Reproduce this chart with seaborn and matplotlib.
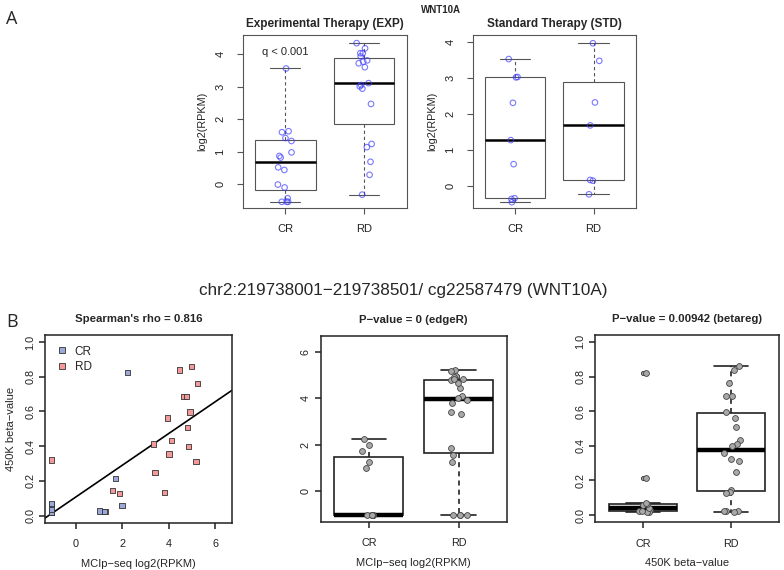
import numpy as np
import pandas as pd
import matplotlib
matplotlib.use("Agg")
import matplotlib.pyplot as plt
from matplotlib.lines import Line2D
import seaborn as sns

groups = ["CR", "RD"]

# Panel A: WNT10A expression, log2(RPKM)
exp_cr = [3.56, 1.63, 1.60, 1.42, 1.33, 0.98, 0.87, 0.82, 0.52, 0.44,
          -0.01, -0.10, -0.43, -0.54, -0.54, -0.54]
exp_rd = [4.34, 4.18, 4.03, 4.03, 3.93, 3.81, 3.77, 3.72, 3.60, 3.11,
          3.05, 3.01, 2.94, 2.47, 1.24, 1.14, 0.69, 0.29, -0.32]
std_cr = [3.53, 3.03, 3.02, 2.31, 1.27, 0.60, -0.35, -0.37, -0.46]
std_rd = [3.97, 3.48, 2.32, 1.68, 0.16, 0.14, -0.24]

# Panel B: per sample MCIp-seq log2(RPKM) and 450K beta-value
cr_mcip = [2.24, 1.99, 1.71, 1.24, 1.01, -1.04, -1.04, -1.04, -1.04, -1.04, -1.04]
cr_beta = [0.823, 0.060, 0.215, 0.023, 0.027, 0.018, 0.020, 0.021, 0.038, 0.064, 0.069]
rd_mcip = [4.98, 4.46, 5.25, 4.65, 4.78, 4.92, 3.94, 4.82, 4.12, 3.34, 4.85,
           4.01, -1.04, 5.18, 3.42, 1.57, 3.81, 1.87, 1.25, -1.04, -1.04, -1.04]
rd_beta = [0.860, 0.838, 0.760, 0.685, 0.687, 0.598, 0.563, 0.508, 0.433, 0.413, 0.398,
           0.356, 0.321, 0.312, 0.250, 0.144, 0.135, 0.129, 0.025, 0.023, 0.021, 0.020]

titles_a = ["Experimental Therapy (EXP)", "Standard Therapy (STD)"]
titles_b = ["Spearman's rho = 0.816", "P\u2212value = 0 (edgeR)",
            "P\u2212value = 0.00942 (betareg)"]
mcip_label = "MCIp\u2212seq log2(RPKM)"
beta_label = "450K beta\u2212value"

cr_col = "#9aa8da"
rd_col = "#f4999a"
blue = "#3c3cffb0"

sns.set_theme(style="ticks")
plt.rcParams["font.family"] = ["Liberation Sans", "DejaVu Sans"]
np.random.seed(3)

W, H = 784, 570


def rect(x0, y0, x1, y1):
    return [x0 / W, 1 - y1 / H, (x1 - x0) / W, (y1 - y0) / H]


def long_df(cr, rd):
    return pd.DataFrame({"group": ["CR"] * len(cr) + ["RD"] * len(rd),
                         "value": list(cr) + list(rd)})


def frame(ax, color, lw, tick_len, xpad, ypad, fs):
    for s in ax.spines.values():
        s.set_color(color)
        s.set_linewidth(lw)
    ax.tick_params(axis="both", direction="out", length=tick_len, width=lw,
                   color=color, labelsize=fs, labelcolor="#222222")
    ax.tick_params(axis="x", pad=xpad)
    ax.tick_params(axis="y", pad=ypad, labelrotation=90)
    for t in ax.get_yticklabels():
        t.set_va("center")


def box_strip(ax, df, line, lw, mlw, strip_kws, flier=False):
    sns.boxplot(data=df, x="group", y="value", order=groups, width=0.77,
                color="white", linecolor=line, linewidth=lw, whis=1.5,
                showfliers=flier, fliersize=3,
                flierprops=dict(marker="o", markerfacecolor="#a8a8a8",
                                markeredgecolor="#333333", markeredgewidth=0.6),
                medianprops=dict(color="black", linewidth=mlw),
                whiskerprops=dict(linestyle=(0, (3, 2.5))),
                ax=ax)
    sns.stripplot(data=df, x="group", y="value", order=groups, jitter=0.1,
                  ax=ax, zorder=3, **strip_kws)
    ax.set_xlim(-0.54, 1.54)
    ax.set_xlabel("")
    ax.set_ylabel("")


fig = plt.figure(figsize=(W / 100, H / 100), dpi=100)

# ---- Panel A ----
open_pts = dict(size=4, facecolor="none", edgecolor=blue, linewidth=0.8)
ax1 = fig.add_axes(rect(242.7, 35, 406.7, 208.3))
box_strip(ax1, long_df(exp_cr, exp_rd), "#555555", 0.8, 1.8, open_pts)
ax1.set_ylim(-0.74, 4.59)
ax1.set_yticks([0, 1, 2, 3, 4])
ax1.text(0, 4.07, "q < 0.001", ha="center", va="center", fontsize=8)

ax2 = fig.add_axes(rect(472.7, 35, 636, 208.3))
box_strip(ax2, long_df(std_cr, std_rd), "#555555", 0.8, 1.8, open_pts)
ax2.set_ylim(-0.63, 4.20)
ax2.set_yticks([0, 1, 2, 3, 4])

for ax, t in zip([ax1, ax2], titles_a):
    frame(ax, "#555555", 0.8, 4.5, 7, 8, 8)
    ax.set_title(t, fontsize=8.5, fontweight="bold", pad=6)
    ax.set_ylabel("log2(RPKM)", fontsize=7.8, labelpad=6)

fig.text(12 / W, 1 - 19 / H, "A", fontsize=13, ha="center", va="center",
         family=["Open Sans", "DejaVu Sans"])
fig.text(441 / W, 1 - 10 / H, "WNT10A", fontsize=7, fontweight="bold",
         ha="center", va="center")
fig.text(403 / W, 1 - 291 / H,
         "chr2:219738001\u2212219738501/ cg22587479 (WNT10A)",
         fontsize=12.3, ha="center", va="center")
fig.text(12 / W, 1 - 322 / H, "B", fontsize=13, ha="center", va="center",
         family=["Open Sans", "DejaVu Sans"])

# ---- Panel B: scatter ----
df_b = pd.DataFrame({
    "group": ["RD"] * len(rd_mcip) + ["CR"] * len(cr_mcip),
    "mcip": list(rd_mcip) + list(cr_mcip),
    "beta": list(rd_beta) + list(cr_beta),
})
mcip_lim = (-1.33, 6.72)
beta_lim = (-0.04, 1.04)

ax3 = fig.add_axes(rect(45, 335, 231.7, 522.7))
sns.scatterplot(data=df_b, x="mcip", y="beta", hue="group", hue_order=groups,
                palette={"CR": cr_col, "RD": rd_col}, marker="s", s=15,
                edgecolor="#333333", linewidth=0.6, legend=False, ax=ax3, zorder=3)
ax3.set_xlim(*mcip_lim)
sns.regplot(data=df_b, x="mcip", y="beta", scatter=False, ci=None,
            truncate=False, color="black", line_kws=dict(lw=1.2), ax=ax3)
ax3.set_xlim(*mcip_lim)
ax3.set_ylim(*beta_lim)
ax3.set_xticks([0, 2, 4, 6])
ax3.set_yticks([0, 0.2, 0.4, 0.6, 0.8, 1.0])
ax3.set_yticklabels([f"{v:.1f}" for v in [0, 0.2, 0.4, 0.6, 0.8, 1.0]])
ax3.set_xlabel(mcip_label, fontsize=8, labelpad=7)
ax3.set_ylabel(beta_label, fontsize=8, labelpad=7)
handles = [Line2D([], [], ls="", marker="s", markersize=5, markerfacecolor=c,
                  markeredgecolor="#333333", markeredgewidth=0.6)
           for c in [cr_col, rd_col]]
ax3.legend(handles, groups, loc="upper left", frameon=False, fontsize=8.5,
           handletextpad=0.6, labelspacing=0.3, borderaxespad=0.5,
           handlelength=1.0)

# ---- Panel B: boxplots ----
gray_pts = dict(size=4.2, color="#a8a8a8", edgecolor="#444444", linewidth=0.6)
ax4 = fig.add_axes(rect(320.5, 335.5, 507, 521.7))
box_strip(ax4, long_df(cr_mcip, rd_mcip), "#222222", 1.2, 3.2, gray_pts)
ax4.set_ylim(*mcip_lim)
ax4.set_yticks([0, 2, 4, 6])
ax4.set_xlabel(mcip_label, fontsize=8, labelpad=7)

ax5 = fig.add_axes(rect(595, 335, 779, 522))
box_strip(ax5, long_df(cr_beta, rd_beta), "#222222", 1.2, 3.2, gray_pts, flier=True)
ax5.set_ylim(*beta_lim)
ax5.set_yticks([0, 0.2, 0.4, 0.6, 0.8, 1.0])
ax5.set_yticklabels([f"{v:.1f}" for v in [0, 0.2, 0.4, 0.6, 0.8, 1.0]])
ax5.set_xlabel(beta_label, fontsize=8, labelpad=7)

for ax, t in zip([ax3, ax4, ax5], titles_b):
    frame(ax, "#222222", 1.1, 4, 8, 3, 7.8)
    ax.set_title(t, fontsize=8.2, fontweight="bold", pad=9)

fig.savefig("out.png", dpi=100)
